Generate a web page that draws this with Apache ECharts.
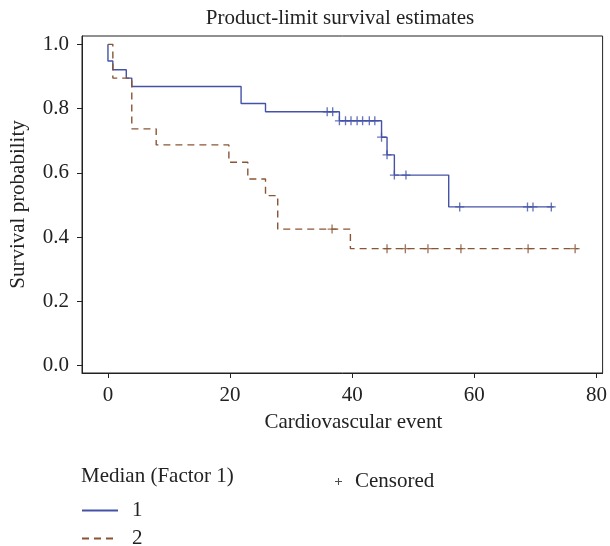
<!DOCTYPE html>
<html><head><meta charset="utf-8">
<script src="https://cdn.jsdelivr.net/npm/echarts@6/dist/echarts.min.js"></script>
<style>html,body{margin:0;padding:0;background:#fff}#c{width:610px;height:546px}</style>
</head><body><div id="c"></div>
<script>
// Kaplan-Meier step data (time, survival after that time)
const group1Times = [0, 0, 0.8, 3, 3.9, 21.8, 25.8, 37.9, 44.8, 45.7, 46.9, 55.8, 73];
const group1Surv  = [1, 0.948, 0.921, 0.895, 0.869, 0.816, 0.790, 0.762, 0.711, 0.656, 0.593, 0.494, 0.494];
const group1CensorTimes = [35.9, 36.8, 37.9, 38.9, 39.8, 40.8, 41.7, 42.8, 43.7, 44.8, 45.7, 46.9, 48.8, 57.6, 68.7, 69.6, 72.6];
const group1CensorSurv  = [0.790, 0.790, 0.762, 0.762, 0.762, 0.762, 0.762, 0.762, 0.762, 0.711, 0.656, 0.593, 0.593, 0.494, 0.494, 0.494, 0.494];
const group2Times = [0, 0.8, 3.9, 7.9, 19.8, 22.9, 25.8, 27.8, 39.7, 77];
const group2Surv  = [1, 0.895, 0.737, 0.687, 0.633, 0.581, 0.529, 0.425, 0.364, 0.364];
const group2CensorTimes = [36.7, 45.7, 48.7, 52.4, 57.8, 68.8, 76.5];
const group2CensorSurv  = [0.425, 0.364, 0.364, 0.364, 0.364, 0.364, 0.364];
const xTickValues = [0, 20, 40, 60, 80];
const yTickValues = [0, 0.2, 0.4, 0.6, 0.8, 1.0];
const groupNames = ['1', '2'];

const BLUE = '#4453a8', BROWN = '#8a5535';
const FONT = 'Liberation Serif';
const FS = 21;
const TXT = '#222';
const plus = 'path://M-0.15,-1 L0.15,-1 L0.15,-0.15 L1,-0.15 L1,0.15 L0.15,0.15 L0.15,1 L-0.15,1 L-0.15,0.15 L-1,0.15 L-1,-0.15 L-0.15,-0.15 Z';

const zip = (a, b) => a.map((v, i) => [v, b[i]]);
const censorData = zip(group1CensorTimes, group1CensorSurv).map(p => ({value: p, itemStyle: {color: BLUE}}))
  .concat(zip(group2CensorTimes, group2CensorSurv).map(p => ({value: p, itemStyle: {color: BROWN}})));

const groupLegend = (name, top) => ({
  data: [name], orient: 'vertical', left: 76, top: top, itemWidth: 36, itemHeight: 12, itemGap: 0,
  itemStyle: {opacity: 0},
  textStyle: {fontFamily: FONT, fontSize: FS, color: TXT, padding: [0, 0, 0, 9]}
});

const chart = echarts.init(document.getElementById('c'), null, {renderer: 'canvas'});
chart.setOption({
  animation: false,
  textStyle: {fontFamily: FONT, color: TXT},
  title: {text: 'Product-limit survival estimates', left: 335, top: 3, textAlign: 'center',
    textStyle: {fontFamily: FONT, fontSize: FS, fontWeight: 'normal', color: TXT}},
  grid: {left: 82, top: 36, right: 4, bottom: 173, show: true, borderColor: TXT, borderWidth: 1},
  xAxis: {type: 'value', min: -4.25, max: 81.0,
    name: 'Cardiovascular event', nameLocation: 'middle', nameGap: 39,
    nameTextStyle: {fontFamily: FONT, fontSize: FS, color: TXT, padding: [0, 0, 0, 22]},
    axisLine: {show: true, onZero: false, lineStyle: {color: TXT}},
    axisTick: {show: true, inside: false, length: 5, lineStyle: {color: TXT}, customValues: xTickValues},
    axisLabel: {fontFamily: FONT, fontSize: FS, color: TXT, margin: 12, customValues: xTickValues},
    splitLine: {show: false}},
  yAxis: {type: 'value', min: -0.023, max: 1.026,
    name: 'Survival probability', nameLocation: 'middle', nameGap: 53,
    nameTextStyle: {fontFamily: FONT, fontSize: FS, color: TXT},
    axisLine: {show: true, onZero: false, lineStyle: {color: TXT}},
    axisTick: {show: true, inside: false, length: 5, lineStyle: {color: TXT}, customValues: yTickValues},
    axisLabel: {fontFamily: FONT, fontSize: FS, color: TXT, margin: 13, customValues: yTickValues,
      formatter: v => v.toFixed(1)},
    splitLine: {show: false}},
  legend: [
    groupLegend(groupNames[0], 495),
    groupLegend(groupNames[1], 523),
    {data: [{name: 'Censored', icon: plus}], left: 330, top: 466, itemWidth: 7, itemHeight: 7, itemGap: 0,
      textStyle: {fontFamily: FONT, fontSize: FS, color: TXT, padding: [0, 0, 0, 8]}}
  ],
  graphic: [{type: 'text', left: 81, top: 466, style: {text: 'Median (Factor 1)', font: FS + 'px ' + FONT, fill: TXT}}],
  series: [
    {name: groupNames[0], type: 'line', step: 'end', data: zip(group1Times, group1Surv), symbol: 'none',
      color: BLUE, lineStyle: {color: BLUE, width: 1.4}},
    {name: groupNames[1], type: 'line', step: 'end', data: zip(group2Times, group2Surv), symbol: 'none',
      color: BROWN, lineStyle: {color: BROWN, width: 1.4, type: [7, 5]}},
    {name: 'Censored', type: 'scatter', data: censorData, symbol: plus, symbolSize: 9,
      itemStyle: {color: TXT}, z: 5}
  ]
});
</script></body></html>
